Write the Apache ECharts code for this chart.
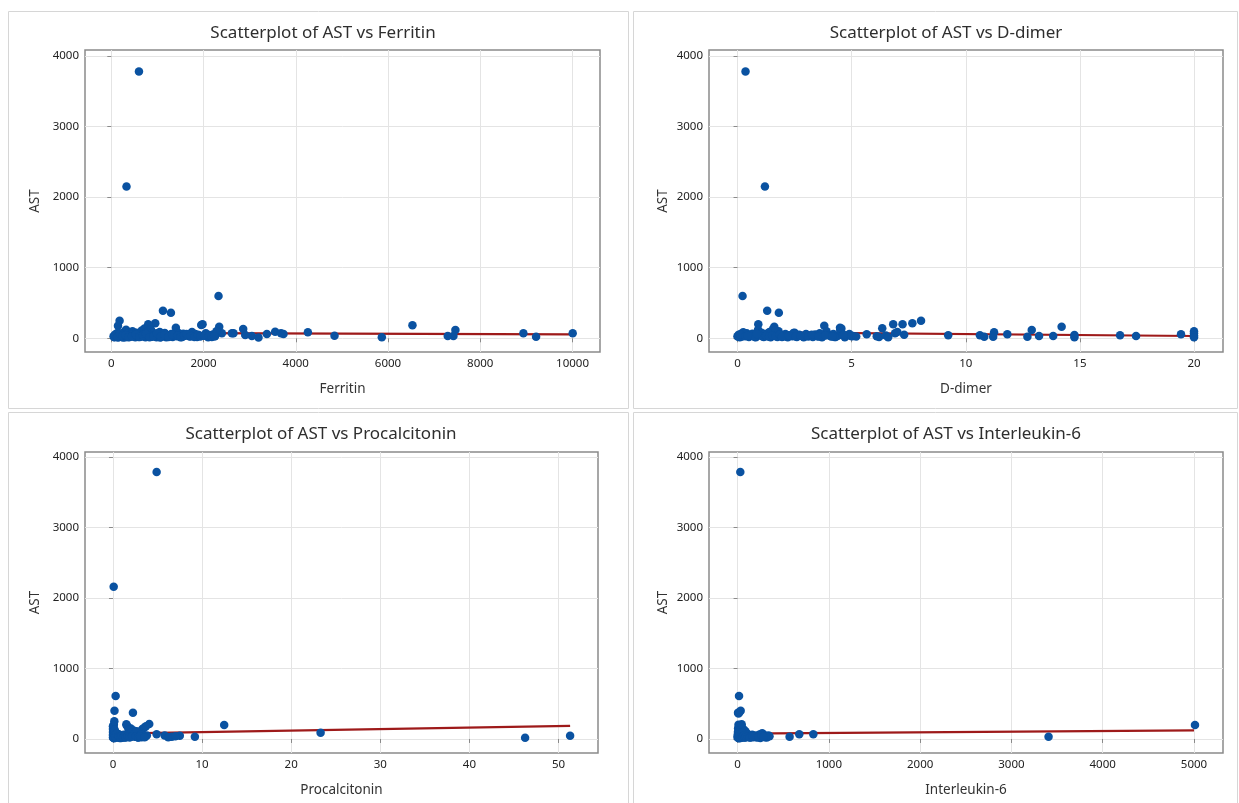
<!DOCTYPE html>
<html>
<head>
<meta charset="utf-8">
<script src="https://cdn.jsdelivr.net/npm/echarts@6/dist/echarts.min.js"></script>
<style>
html,body{margin:0;padding:0;background:#fff;}
#c{width:1239px;height:803px;}
</style>
</head>
<body>
<div id="c"></div>
<script>
// ---------- DATA ----------
const yTicks = [0, 1000, 2000, 3000, 4000];

const ferritinTicks = [0, 2000, 4000, 6000, 8000, 10000];
const ferritinX = [600, 330, 2325, 1120, 1293, 6530, 7461, 7418, 7295, 8935, 9210, 10004, 5866, 4840, 4262, 3553, 3680, 3734, 3373, 3048, 3192, 2860, 2904, 2650, 2615, 2398, 2340, 1979, 953, 180, 145, 800,
  50, 70, 90, 100, 120, 140, 150, 170, 200, 230, 250, 270, 290, 300, 320, 340, 360, 380, 400, 420, 440, 460, 480, 500, 520, 540, 560, 580, 620, 640, 660, 680, 700, 720, 740, 760, 780, 820, 840, 860, 880, 900, 920, 980, 1000, 1020, 1050, 1080, 1100, 1130, 1160, 1190, 1220, 1250, 1300, 1330, 1360, 1400, 1420, 1450, 1480, 1520, 1560, 1600, 1650, 1700, 1750, 1780, 1820, 1860, 1900, 1950, 2050, 2100, 2150, 2200, 2250, 2280, 60, 110, 210, 260, 350, 430, 510, 590, 650, 710, 770, 870, 960, 1060, 1180, 1270, 1380, 1540, 1680, 1840, 2000,
  80, 130, 190, 240, 310, 370, 450, 530, 610, 690, 750, 830, 910, 990, 1070, 1150, 1240, 1320, 1440, 1500, 1580, 1630, 1720, 1800, 1880, 1930, 2020, 2120, 2180, 2230];
const ferritinAST = [3780, 2150, 599, 391, 363, 184, 118, 33, 33, 71, 23, 71, 14, 37, 85, 94, 70, 61, 61, 33, 12, 132, 47, 70, 72, 70, 165, 198, 212, 250, 178, 200,
  30, 15, 45, 60, 25, 80, 10, 35, 55, 20, 70, 40, 95, 15, 120, 50, 30, 75, 20, 60, 40, 100, 25, 55, 15, 80, 35, 65, 20, 45, 110, 30, 70, 140, 15, 55, 90, 35, 60, 120, 25, 80, 45, 15, 50, 30, 90, 20, 60, 40, 75, 15, 45, 30, 60, 20, 50, 150, 30, 80, 45, 20, 65, 35, 55, 25, 90, 40, 60, 20, 45, 190, 70, 15, 40, 55, 30, 100, 20, 40, 65, 10, 25, 50, 35, 18, 42, 28, 85, 22, 38, 12, 55, 30, 48, 20, 35, 25, 40,
  50, 20, 65, 35, 45, 15, 30, 50, 25, 40, 60, 15, 30, 70, 25, 45, 20, 55, 35, 15, 40, 60, 30, 20, 50, 25, 35, 45, 20, 30];
const ferritinFit = [[50, 78], [10004, 57]];

const ddimerTicks = [0, 5, 10, 15, 20];
const ddimerX = [0.35, 1.2, 0.22, 1.30, 1.81, 0.91, 1.61, 3.80, 4.49, 6.34, 6.82, 7.23, 7.66, 8.04, 5.66, 5.06, 6.2, 6.5, 6.9, 7.3, 6.1, 6.6, 7.0,
  9.23, 10.62, 10.81, 11.24, 11.2, 11.82, 12.70, 12.89, 13.21, 13.83, 14.20, 14.76, 14.76, 16.76, 17.46, 19.43, 20, 20, 20, 20,
  0.0, 0.05, 0.1, 0.15, 0.2, 0.3, 0.4, 0.5, 0.6, 0.7, 0.8, 0.9, 1.0, 1.05, 1.1, 1.2, 1.3, 1.4, 1.45, 1.5, 1.55, 1.6, 1.7, 1.75, 1.8, 1.9, 2.0, 2.1, 2.2, 2.3, 2.4, 2.5, 2.6, 2.7, 2.8, 2.9, 3.0, 3.1, 3.2, 3.3, 3.4, 3.5, 3.6, 3.7, 3.9, 4.0, 4.1, 4.2, 4.3, 4.4, 4.5, 4.6, 4.7, 4.8, 4.9, 5.0, 5.2, 0.25, 0.65, 1.15, 1.65, 2.15, 2.45, 3.05, 3.65, 4.25, 4.55, 1.35, 0.95,
  0.02, 0.12, 0.35, 0.55, 0.75, 0.85, 1.25, 1.38, 1.52, 1.68, 1.85, 1.95, 2.25, 2.55, 2.75, 3.25, 3.55, 3.85, 4.15, 4.65, 0.45, 1.02];
const ddimerAST = [3780, 2150, 599, 391, 363, 198, 165, 178, 150, 141, 198, 198, 212, 249, 57, 33, 20, 40, 70, 50, 30, 15, 90,
  42, 42, 23, 85, 23, 57, 23, 118, 33, 33, 165, 47, 15, 42, 33, 57, 100, 70, 40, 15,
  30, 50, 15, 60, 25, 40, 70, 20, 35, 55, 15, 120, 45, 80, 25, 60, 30, 90, 15, 50, 130, 35, 70, 20, 100, 40, 25, 60, 15, 45, 30, 80, 20, 50, 35, 15, 60, 25, 40, 20, 55, 30, 70, 15, 100, 45, 25, 60, 20, 35, 120, 50, 15, 40, 60, 30, 25, 85, 65, 20, 110, 40, 75, 35, 55, 20, 140, 75,
  45, 25, 55, 30, 45, 20, 60, 35, 25, 45, 30, 55, 20, 40, 25, 35, 50, 25, 40, 30, 50, 35];
const ddimerFit = [[0, 88], [20, 33]];

const pctTicks = [0, 10, 20, 30, 40, 50];
const pctX = [4.9, 0.08, 0.3, 0.17, 2.24, 12.48, 23.3, 46.25, 51.3, 9.19, 4.9, 4.07, 5.8, 6.6, 7.5, 6.2, 7.0,
  0.0, 0.0, 0.0, 0.0, 0.0, 0.05, 0.05, 0.05, 0.1, 0.1, 0.1, 0.1, 0.15, 0.2, 0.2, 0.25, 0.3, 0.35, 0.4, 0.45, 0.5, 0.6, 0.7, 0.8, 0.9, 1.0, 1.1, 1.2, 1.3, 1.4, 1.5, 1.6, 1.7, 1.8, 1.9, 2.0, 2.1, 2.3, 2.4, 2.5, 2.6, 2.7, 2.8, 2.9, 3.0, 3.1, 3.2, 3.3, 3.4, 3.5, 3.6, 3.7, 3.8, 1.55, 1.75, 2.05, 2.35, 2.65, 3.15, 3.45, 0.55, 0.75, 1.05, 1.25,
  0.02, 0.08, 0.12, 0.18, 0.22, 0.28, 0.38, 0.65, 0.85, 0.95, 1.15, 1.35, 1.45, 1.65, 1.85, 2.15, 2.55, 2.85, 3.05, 3.55];
const pctAST = [3787, 2160, 610, 401, 373, 199, 90, 18, 47, 33, 67, 213, 50, 30, 45, 25, 40,
  20, 60, 100, 140, 180, 40, 80, 160, 30, 70, 120, 200, 250, 50, 110, 30, 90, 60, 20, 45, 30, 70, 25, 55, 15, 40, 30, 60, 20, 45, 210, 35, 170, 50, 25, 150, 40, 120, 60, 30, 100, 45, 20, 80, 35, 55, 25, 140, 40, 160, 30, 180, 50, 190, 130, 90, 70, 110, 60, 35, 25, 15, 20, 35, 50,
  40, 10, 130, 55, 25, 75, 40, 20, 40, 25, 45, 20, 35, 25, 40, 30, 20, 35, 25, 30];
const pctFit = [[0, 76], [51.3, 185]];

const il6Ticks = [0, 1000, 2000, 3000, 4000, 5000];
const il6X = [30, 16, 34, 5, 5011, 3407, 570, 676, 830, 20, 10,
  0, 2, 4, 6, 8, 10, 12, 14, 16, 18, 20, 22, 25, 28, 30, 32, 35, 38, 40, 45, 50, 55, 60, 65, 70, 75, 80, 85, 90, 95, 100, 110, 120, 130, 140, 150, 160, 170, 180, 190, 200, 210, 220, 240, 250, 260, 270, 280, 290, 300, 310, 320, 330, 340, 350, 15, 25, 35, 45, 55, 65, 85, 105,
  3, 9, 13, 19, 24, 27, 33, 42, 48, 52, 58, 68, 78, 92, 115, 135, 165, 230, 265, 285];
const il6AST = [3787, 610, 401, 373, 199, 33, 33, 67, 67, 380, 360,
  20, 60, 100, 150, 30, 200, 80, 45, 170, 25, 120, 60, 190, 35, 90, 140, 20, 70, 110, 40, 160, 25, 80, 50, 130, 20, 60, 35, 100, 45, 25, 70, 30, 50, 20, 40, 60, 25, 35, 50, 30, 20, 45, 65, 15, 40, 80, 30, 55, 25, 45, 20, 35, 50, 40, 10, 180, 130, 210, 95, 75, 110, 55,
  40, 85, 15, 55, 35, 70, 15, 50, 25, 85, 30, 45, 20, 40, 30, 20, 35, 25, 50, 30];
const il6Fit = [[0, 75], [5000, 122]];

// ---------- CHART ----------
const FONT = '"Noto Sans", "Open Sans", sans-serif';
const DOT = '#0a52a1';
const FIT = '#9e1a1a';

const panels = [
  {title: 'Scatterplot of AST vs Ferritin', name: 'Ferritin', xs: ferritinX, ys: ferritinAST, fit: ferritinFit, ticks: ferritinTicks,
   xmin: -570, xmax: 10596, ymin: -194, ymax: 4085, grid: {left: 85, top: 50, width: 515, height: 302}, tx: 318, ty: 20},
  {title: 'Scatterplot of AST vs D-dimer', name: 'D-dimer', xs: ddimerX, ys: ddimerAST, fit: ddimerFit, ticks: ddimerTicks,
   xmin: -1.25, xmax: 21.27, ymin: -194, ymax: 4085, grid: {left: 709, top: 50, width: 514, height: 302}, tx: 941, ty: 20},
  {title: 'Scatterplot of AST vs Procalcitonin', name: 'Procalcitonin', xs: pctX, ys: pctAST, fit: pctFit, ticks: pctTicks,
   xmin: -3.14, xmax: 54.43, ymin: -199, ymax: 4071, grid: {left: 85, top: 452, width: 513, height: 301}, tx: 316, ty: 421},
  {title: 'Scatterplot of AST vs Interleukin-6', name: 'Interleukin-6', xs: il6X, ys: il6AST, fit: il6Fit, ticks: il6Ticks,
   xmin: -313, xmax: 5318, ymin: -199, ymax: 4071, grid: {left: 709, top: 452, width: 514, height: 301}, tx: 941, ty: 421}
];

const option = {
  backgroundColor: '#fff',
  animation: false,
  textStyle: {fontFamily: FONT},
  title: [], grid: [], xAxis: [], yAxis: [], series: [],
  graphic: [
    {type: 'rect', shape: {x: 8.5, y: 11.5, width: 620, height: 397}, style: {fill: 'none', stroke: '#d6d6d6', lineWidth: 1}, silent: true},
    {type: 'rect', shape: {x: 633.5, y: 11.5, width: 604, height: 397}, style: {fill: 'none', stroke: '#d6d6d6', lineWidth: 1}, silent: true},
    {type: 'rect', shape: {x: 8.5, y: 412.5, width: 620, height: 400}, style: {fill: 'none', stroke: '#d6d6d6', lineWidth: 1}, silent: true},
    {type: 'rect', shape: {x: 633.5, y: 412.5, width: 604, height: 400}, style: {fill: 'none', stroke: '#d6d6d6', lineWidth: 1}, silent: true}
  ]
};

const plain = v => String(Math.round(v * 100) / 100);

panels.forEach((p, i) => {
  option.title.push({text: p.title, left: p.tx, top: p.ty, textAlign: 'center',
    textStyle: {fontFamily: FONT, fontSize: 17, fontWeight: 'normal', color: '#2e2e2e'}});
  option.grid.push(Object.assign({show: true, borderColor: '#8a8a8a', borderWidth: 1.5, backgroundColor: '#fff'}, p.grid));
  option.xAxis.push({
    type: 'value', gridIndex: i, min: p.xmin, max: p.xmax,
    name: p.name, nameLocation: 'middle', nameGap: 30,
    nameTextStyle: {fontFamily: FONT, fontSize: 13.5, color: '#333'},
    axisLine: {show: false},
    axisTick: {show: true, length: 4, lineStyle: {color: '#8a8a8a'}, customValues: p.ticks},
    axisLabel: {customValues: p.ticks, formatter: plain, fontFamily: FONT, fontSize: 11.5, color: '#222', margin: 6},
    splitLine: {show: true, lineStyle: {color: '#e4e4e4', width: 1}}
  });
  option.yAxis.push({
    type: 'value', gridIndex: i, min: p.ymin, max: p.ymax,
    name: 'AST', nameLocation: 'middle', nameGap: i % 2 === 0 ? 43 : 39,
    nameTextStyle: {fontFamily: FONT, fontSize: 13.5, color: '#333'},
    axisLine: {show: false},
    axisTick: {show: true, length: 4, lineStyle: {color: '#8a8a8a'}, customValues: yTicks},
    axisLabel: {customValues: yTicks, formatter: plain, fontFamily: FONT, fontSize: 11.5, color: '#222', margin: 6},
    splitLine: {show: true, lineStyle: {color: '#e4e4e4', width: 1}}
  });
  option.series.push({
    type: 'line', xAxisIndex: i, yAxisIndex: i, data: p.fit, symbol: 'none',
    lineStyle: {color: FIT, width: 2.2}, z: 2, silent: true
  });
  option.series.push({
    type: 'scatter', xAxisIndex: i, yAxisIndex: i,
    data: p.xs.map((x, k) => [x, p.ys[k]]),
    symbolSize: 8.5, itemStyle: {color: DOT, opacity: 1}, z: 3
  });
});

const chart = echarts.init(document.getElementById('c'), null, {renderer: 'canvas'});
chart.setOption(option);
</script>
</body>
</html>
